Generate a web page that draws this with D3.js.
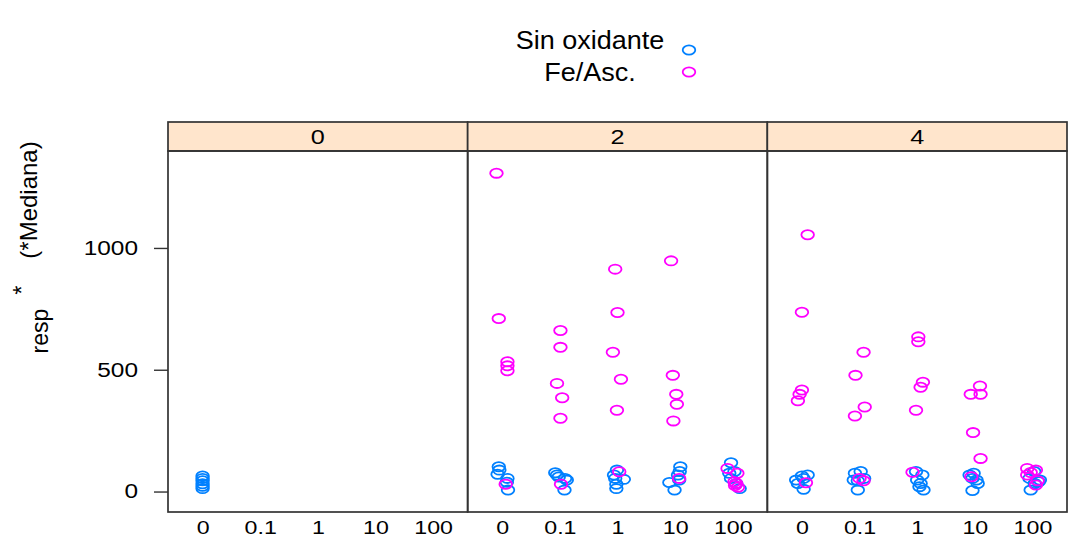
<!DOCTYPE html>
<html>
<head>
<meta charset="utf-8">
<script src="https://cdn.jsdelivr.net/npm/d3@7"></script>
<style>
  body { margin: 0; background: #fff; }
  svg { display: block; font-family: "Liberation Sans", Arial, sans-serif; }
</style>
</head>
<body>
<div id="chart"></div>
<script>
"use strict";

// panels (time), x categories (concentration), groups
var panels = ["0", "2", "4"];
var concentrations = ["0", "0.1", "1", "10", "100"];
var groups = ["Sin oxidante", "Fe/Asc."];
var yTicks = [0, 500, 1000];

// [concentration, jitter (in category steps), value]
var sinOx0 = [["0",0,64],["0",0,54],["0",0,44],["0",0,32],["0",0,22],["0",0,12]];
var feAsc0 = [];

var sinOx2 = [
  ["0",-0.06,102],["0",-0.08,71],["0",0.09,54],["0",0.10,6],["0",0.08,38],["0",-0.05,88],
  ["0.1",-0.08,77],["0.1",-0.05,68],["0.1",0.09,54],["0.1",0.08,6],["0.1",0.12,47],["0.1",-0.02,60],
  ["1",-0.01,88],["1",-0.04,54],["1",0.11,50],["1",-0.02,30],["1",-0.02,12],["1",-0.06,68],
  ["10",0.09,102],["10",0.05,68],["10",-0.10,37],["10",-0.01,6],["10",0.07,47],["10",0.08,82],
  ["100",-0.03,118],["100",0.03,82],["100",-0.03,54],["100",0.12,12],["100",0.06,33],["100",-0.06,75]
];
var feAsc2 = [
  ["0",-0.10,1307],["0",-0.06,710],["0",0.09,533],["0",0.09,516],["0",0.09,496],["0",0.06,30],
  ["0.1",0.01,661],["0.1",0.01,592],["0.1",-0.05,444],["0.1",0.04,385],["0.1",0.01,301],["0.1",0.02,30],
  ["1",-0.04,913],["1",0.00,735],["1",-0.08,572],["1",0.06,461],["1",-0.01,334],["1",0.03,81],
  ["10",-0.07,947],["10",-0.04,477],["10",0.02,399],["10",0.03,358],["10",-0.03,290],["10",0.07,54],
  ["100",-0.09,95],["100",0.08,75],["100",0.03,40],["100",0.06,33],["100",0.04,25],["100",0.09,18]
];

var sinOx4 = [
  ["0",-0.10,47],["0",0.00,64],["0",0.03,54],["0",0.03,9],["0",-0.07,33],["0",0.10,68],
  ["0.1",-0.08,75],["0.1",0.02,82],["0.1",-0.03,44],["0.1",-0.03,6],["0.1",0.08,54],["0.1",-0.10,47],
  ["1",0.09,68],["1",0.00,47],["1",0.06,33],["1",0.11,6],["1",-0.02,82],["1",0.04,20],
  ["10",-0.02,75],["10",-0.04,54],["10",0.05,33],["10",-0.04,4],["10",-0.09,68],["10",0.03,47],
  ["100",-0.03,6],["100",0.04,33],["100",0.11,40],["100",-0.05,54],["100",0.03,82],["100",0.13,47]
];
var feAsc4 = [
  ["0",0.10,1054],["0",0.00,736],["0",0.00,417],["0",-0.04,399],["0",-0.07,373],["0",0.07,36],
  ["0.1",0.07,572],["0.1",-0.07,477],["0.1",0.09,347],["0.1",-0.08,310],["0.1",0.00,54],["0.1",0.07,44],
  ["1",0.02,635],["1",0.02,615],["1",0.10,449],["1",0.06,428],["1",-0.02,334],["1",-0.08,79],
  ["10",0.09,433],["10",-0.07,399],["10",0.10,399],["10",-0.03,242],["10",0.10,136],["10",-0.06,61],
  ["100",-0.09,95],["100",0.06,88],["100",-0.09,68],["100",0.09,44],["100",0.06,27],["100",-0.03,78]
];

var panelData = {
  "0": [sinOx0, feAsc0],
  "2": [sinOx2, feAsc2],
  "4": [sinOx4, feAsc4]
};

var colors = ["#0080ff", "#ff00ff"];

var width = 1069, height = 539;
var stripTop = 122, plotTop = 151, plotBottom = 512;

var svg = d3.select("#chart").append("svg")
  .attr("width", width).attr("height", height);

// text in the reference looks a bit wider than normal
function stretch(sel, k) {
  sel.each(function () {
    var w = this.getComputedTextLength();
    d3.select(this).attr("textLength", w * k).attr("lengthAdjust", "spacingAndGlyphs");
  });
}

var px = d3.scaleBand().domain(panels).range([168, 1067]).paddingInner(0);
var x = d3.scalePoint().domain(concentrations).range([0, px.bandwidth()]).padding(0.6);
var y = d3.scaleLinear().domain([-84, 1398]).range([plotBottom, plotTop]);

// y axis (left of first panel)
var yAxis = svg.append("g")
  .attr("transform", "translate(" + px(panels[0]) + ",0)")
  .call(d3.axisLeft(y).tickValues(yTicks).tickSize(14).tickPadding(16).tickFormat(d3.format("d")));
yAxis.select(".domain").remove();
yAxis.selectAll("line").attr("stroke", "#333").attr("stroke-width", 1.4);
yAxis.selectAll("text").attr("font-size", 20).attr("fill", "#000")
  .attr("font-family", "Liberation Sans, Arial, sans-serif");
stretch(yAxis.selectAll("text"), 1.22);

panels.forEach(function (p, i) {
  var g = svg.append("g").attr("transform", "translate(" + px(p) + ",0)");

  // strip
  g.append("rect")
    .attr("x", 0).attr("y", stripTop)
    .attr("width", px.bandwidth()).attr("height", plotTop - stripTop)
    .attr("fill", "#ffe5cc").attr("stroke", "#333").attr("stroke-width", 1.7);
  var st = g.append("text")
    .attr("x", px.bandwidth() / 2).attr("y", (stripTop + plotTop) / 2)
    .attr("dy", "0.36em").attr("text-anchor", "middle")
    .attr("font-size", 21).text(p);
  stretch(st, 1.2);

  // x axis
  var xAxis = g.append("g")
    .attr("transform", "translate(0," + plotBottom + ")")
    .call(d3.axisBottom(x).tickSize(0).tickPadding(9));
  xAxis.select(".domain").remove();
  xAxis.selectAll("text").attr("font-size", 19).attr("fill", "#000")
    .attr("font-family", "Liberation Sans, Arial, sans-serif");
  stretch(xAxis.selectAll("text"), 1.22);

  // points, group by group
  panelData[p].forEach(function (series, k) {
    g.append("g").selectAll("ellipse").data(series).enter().append("ellipse")
      .attr("cx", function (d) { return x(d[0]) + d[1] * x.step(); })
      .attr("cy", function (d) { return y(d[2]); })
      .attr("rx", 6.3).attr("ry", 4.6)
      .attr("fill", "none")
      .attr("stroke", colors[k])
      .attr("stroke-width", 1.8);
  });

  // panel border
  g.append("rect")
    .attr("x", 0).attr("y", plotTop)
    .attr("width", px.bandwidth()).attr("height", plotBottom - plotTop)
    .attr("fill", "none").attr("stroke", "#333").attr("stroke-width", 1.7);
});

// legend
var legendY = [49, 81];
var legendPt = [50, 72];
groups.forEach(function (name, k) {
  var t = svg.append("text")
    .attr("x", 590).attr("y", legendY[k])
    .attr("text-anchor", "middle")
    .attr("font-size", 25).text(name);
  stretch(t, 1.08);
  svg.append("ellipse")
    .attr("cx", 689).attr("cy", legendPt[k])
    .attr("rx", 6.3).attr("ry", 4.6)
    .attr("fill", "none").attr("stroke", colors[k]).attr("stroke-width", 1.8);
});

// y label: resp * (*Mediana)
svg.append("text")
  .attr("transform", "translate(48,331) rotate(-90)")
  .attr("text-anchor", "middle").attr("font-size", 23).text("resp");
svg.append("text")
  .attr("transform", "translate(30,290) rotate(-90)")
  .attr("text-anchor", "middle").attr("font-size", 23).text("*");
svg.append("text")
  .attr("transform", "translate(37,200) rotate(-90)")
  .attr("text-anchor", "middle").attr("font-size", 24).text("(*Mediana)");
</script>
</body>
</html>
